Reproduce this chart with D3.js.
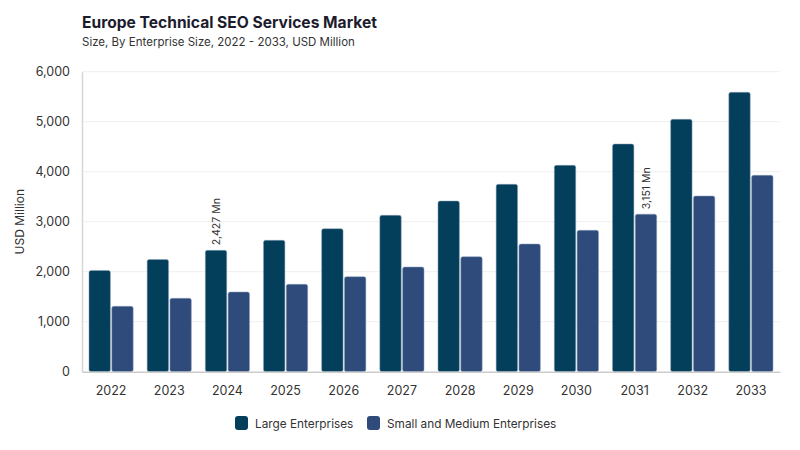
<!DOCTYPE html>
<html>
<head>
<meta charset="utf-8">
<script src="https://cdn.jsdelivr.net/npm/d3@7"></script>
<style>
  body { margin: 0; background: #fff; }
  text { font-family: Inter, "Noto Sans", sans-serif; }
</style>
</head>
<body>
<svg id="svg"></svg>
<script>
var w = 800;
var h = 450;

var years = ["2022", "2023", "2024", "2025", "2026", "2027", "2028", "2029", "2030", "2031", "2032", "2033"];
var large = [2025, 2245, 2427, 2628, 2860, 3128, 3414, 3748, 4128, 4554, 5048, 5588];
var smb = [1308, 1468, 1594, 1748, 1900, 2094, 2300, 2554, 2828, 3151, 3514, 3928];
var seriesNames = ["Large Enterprises", "Small and Medium Enterprises"];
var colors = ["#033f5b", "#2f4b7c"];
var yTicks = [0, 1000, 2000, 3000, 4000, 5000, 6000];
// which bars carry a value label: [series, year]
var notes = [[0, "2024"], [1, "2031"]];

var pLeft = 82, pRight = 780, pTop = 71.7, pBottom = 371.7;

var svg = d3.select("#svg")
    .attr("width", w)
    .attr("height", h);

svg.append("text")
    .attr("x", 82).attr("y", 28)
    .attr("font-size", 15.6).attr("font-weight", 700)
    .attr("fill", "#1c1c2e")
    .text("Europe Technical SEO Services Market");

svg.append("text")
    .attr("x", 82).attr("y", 46)
    .attr("font-size", 11.5)
    .attr("fill", "#333")
    .text("Size, By Enterprise Size, 2022 - 2033, USD Million");

var x = d3.scaleBand().domain(years).range([pLeft, pRight]).paddingInner(0.24).paddingOuter(0.12);
var x1 = d3.scaleBand().domain([0, 1]).range([0, x.bandwidth()]).paddingInner(0.06);
var y = d3.scaleLinear().domain([0, 6000]).range([pBottom, pTop]);

// grid
svg.append("g")
    .selectAll("line")
    .data(yTicks.slice(1))
    .join("line")
    .attr("x1", pLeft).attr("x2", pRight)
    .attr("y1", function(d) { return y(d) }).attr("y2", function(d) { return y(d) })
    .attr("stroke", "#efefef")
    .attr("stroke-width", 1);

// y axis
var ya = svg.append("g")
    .attr("transform", "translate(" + pLeft + ",0)")
    .call(d3.axisLeft(y).tickValues(yTicks).tickSize(0).tickPadding(12).tickFormat(d3.format(",")));
ya.select(".domain").attr("stroke", "#d6d6d6").attr("stroke-width", 1.5);
ya.selectAll("text").attr("font-size", 12.5).attr("fill", "#333").style("font-family", "Inter, sans-serif");

svg.append("text")
    .attr("transform", "translate(24," + ((pTop + pBottom) / 2) + ")rotate(-90)")
    .attr("text-anchor", "middle")
    .attr("font-size", 12)
    .attr("fill", "#333")
    .text("USD Million");

// bars
var groups = svg.append("g")
    .selectAll("g")
    .data(years)
    .join("g")
    .attr("transform", function(d) { return "translate(" + x(d) + ",0)" });

groups.selectAll("rect")
    .data(function(d, i) { return [large[i], smb[i]] })
    .join("rect")
    .attr("x", function(d, i) { return x1(i) })
    .attr("y", function(d) { return y(d) })
    .attr("width", x1.bandwidth())
    .attr("height", function(d) { return pBottom - y(d) })
    .attr("rx", 2)
    .attr("fill", function(d, i) { return colors[i] })
    .attr("stroke", "#8fa3b8")
    .attr("stroke-width", 0.5);

// x axis
var xa = svg.append("g")
    .attr("transform", "translate(0," + pBottom + ")")
    .call(d3.axisBottom(x).tickSize(0).tickPadding(14));
xa.select(".domain").attr("stroke", "#cccccc").attr("stroke-width", 1.5);
xa.selectAll("text").attr("font-size", 12.5).attr("fill", "#333").style("font-family", "Inter, sans-serif");

// value labels
notes.forEach(function(n) {
    var s = n[0], yr = n[1];
    var i = years.indexOf(yr);
    var v = s == 0 ? large[i] : smb[i];
    var cx = x(yr) + x1(s) + x1.bandwidth() / 2;
    svg.append("text")
        .attr("transform", "translate(" + (cx + 4) + "," + (y(v) - 5) + ")rotate(-90)")
        .attr("font-size", 10.5)
        .attr("fill", "#333")
        .text(d3.format(",")(v) + " Mn");
});

// legend
var lx = [235, 367];
var lg = svg.append("g")
    .selectAll("g")
    .data(seriesNames)
    .join("g")
    .attr("transform", function(d, i) { return "translate(" + lx[i] + ",416)" });
lg.append("rect")
    .attr("width", 13).attr("height", 14).attr("rx", 3)
    .attr("fill", function(d, i) { return colors[i] });
lg.append("text")
    .attr("x", 20).attr("y", 11.5)
    .attr("font-size", 11.8)
    .attr("fill", "#333")
    .text(function(d) { return d });
</script>
</body>
</html>
